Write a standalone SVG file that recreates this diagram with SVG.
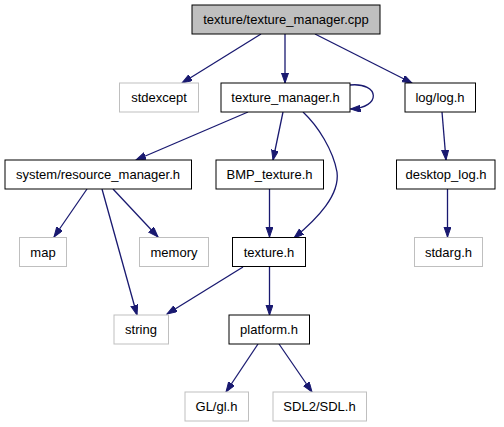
<svg xmlns="http://www.w3.org/2000/svg" width="504" height="427" viewBox="0 0 504 427">
<style>
.n rect{fill:#fff;stroke:#000;stroke-width:1}
.n.ext rect{stroke:#bfbfbf}
.n.root rect{fill:#bfbfbf}
.n text{font-family:"Liberation Sans",Arial,sans-serif;font-size:13px;text-anchor:middle;fill:#000}
#edges path{fill:none;stroke:#191970;stroke-width:1.3;marker-end:url(#ah)}
</style>
<defs>
<marker id="ah" markerUnits="userSpaceOnUse" markerWidth="11" markerHeight="9" refX="10" refY="3.5" orient="auto">
<path d="M0,0 L10,3.5 L0,7 z" fill="#191970" stroke="#191970" stroke-width="1"/>
</marker>
</defs>
<rect width="504" height="427" fill="#fff"/>
<g id="edges">
<path d="M261,34 L182,83"/>
<path d="M285,34 L285,83"/>
<path d="M315,34 L412,83"/>
<path d="M350,85 C380,82 382,108 350.5,109"/>
<path d="M248,112 L136,160"/>
<path d="M283,112 L273,160"/>
<path d="M303,112 C318,126 333,150 337,172 C340,195 318,218 294,238"/>
<path d="M442,112 L446,160"/>
<path d="M87,189 L54,237"/>
<path d="M113,189 L158,237"/>
<path d="M102,189 L137,315"/>
<path d="M269.5,189 L269.5,237"/>
<path d="M447.5,189 L447.5,237"/>
<path d="M243,267 L167,314"/>
<path d="M269.5,267 L269.5,315"/>
<path d="M258,344 L226,392"/>
<path d="M279,344 L312,392"/>
</g>
<g id="texture_manager_cpp" class="n root"><rect x="192" y="5" width="188" height="29"/><text x="286" y="24">texture/texture_manager.cpp</text></g>
<g id="stdexcept" class="n ext"><rect x="119.5" y="83" width="79" height="29"/><text x="159" y="102">stdexcept</text></g>
<g id="texture_manager_h" class="n"><rect x="221" y="83" width="129" height="29"/><text x="285.5" y="102">texture_manager.h</text></g>
<g id="log_h" class="n"><rect x="405" y="83" width="70.5" height="29"/><text x="440" y="102">log/log.h</text></g>
<g id="resource_manager_h" class="n"><rect x="5" y="160" width="186.5" height="29"/><text x="98" y="179">system/resource_manager.h</text></g>
<g id="BMP_texture_h" class="n"><rect x="216" y="160" width="107.5" height="29"/><text x="269.5" y="179">BMP_texture.h</text></g>
<g id="desktop_log_h" class="n"><rect x="396.5" y="160" width="98.5" height="29"/><text x="446" y="179">desktop_log.h</text></g>
<g id="map" class="n ext"><rect x="19.5" y="237.5" width="47" height="29"/><text x="43" y="256.5">map</text></g>
<g id="memory" class="n ext"><rect x="139.5" y="237.5" width="69" height="29"/><text x="174" y="256.5">memory</text></g>
<g id="texture_h" class="n"><rect x="232.5" y="237.5" width="73" height="29"/><text x="269" y="256.5">texture.h</text></g>
<g id="stdarg_h" class="n ext"><rect x="414.5" y="237.5" width="68" height="29"/><text x="448.5" y="256.5">stdarg.h</text></g>
<g id="string" class="n ext"><rect x="114" y="315" width="54.5" height="29"/><text x="141" y="334">string</text></g>
<g id="platform_h" class="n"><rect x="229" y="315" width="80.5" height="29"/><text x="269" y="334">platform.h</text></g>
<g id="GL_gl_h" class="n ext"><rect x="185" y="392" width="63.5" height="29"/><text x="216.5" y="411">GL/gl.h</text></g>
<g id="SDL2_SDL_h" class="n ext"><rect x="273" y="392" width="93.5" height="29"/><text x="319.5" y="411">SDL2/SDL.h</text></g>
</svg>
